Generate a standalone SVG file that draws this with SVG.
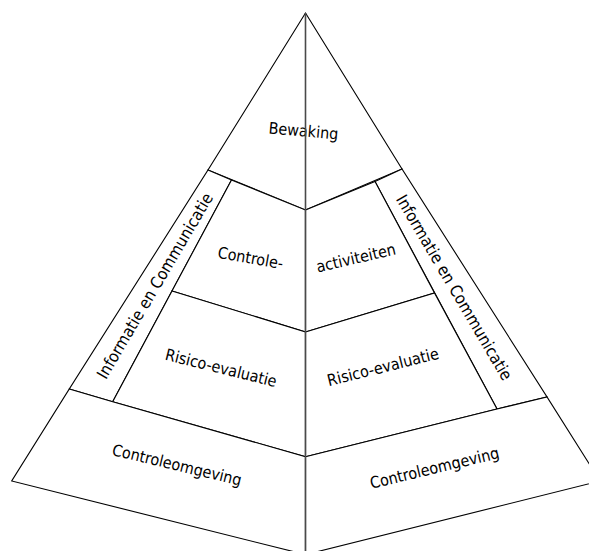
<svg xmlns="http://www.w3.org/2000/svg" width="589" height="551" viewBox="0 0 589 551">
  <style>
    .seg { fill: #ffffff; stroke: #000000; stroke-width: 1.1; stroke-linejoin: miter; }
    .axis { fill: none; stroke: #4a4a4a; stroke-width: 1.6; }
    .lbl { font-family: "DejaVu Sans Condensed", "DejaVu Sans", sans-serif; font-stretch: condensed; font-size: 16px; fill: #000000; text-anchor: middle; }
    .band { font-size: 16.5px; }
  </style>
  <rect width="589" height="551" fill="#ffffff"/>

  <!-- top of the pyramid -->
  <g id="bewaking">
    <polygon class="seg" points="305.5,13 402,169 305.5,210 208,170"/>
    <text class="lbl" transform="translate(303.5,131) rotate(5)" y="5.5">Bewaking</text>
  </g>

  <!-- side bands -->
  <g id="info-left">
    <polygon class="seg" points="208,170 231.5,180 112.7,401.7 69.3,389"/>
    <text class="lbl band" transform="translate(155,286) rotate(-59.5)" y="5.5">Informatie en Communicatie</text>
  </g>
  <g id="info-right">
    <polygon class="seg" points="402,169 375,181.5 497,409 547,397"/>
    <text class="lbl band" transform="translate(454,287.5) rotate(59.5)" y="5.5">Informatie en Communicatie</text>
  </g>

  <!-- control activities -->
  <g id="controle-left">
    <polygon class="seg" points="231.5,180 305.5,210 305.5,332 172,291"/>
    <text class="lbl" transform="translate(250.5,258) rotate(10)" y="5.5">Controle-</text>
  </g>
  <g id="controle-right">
    <polygon class="seg" points="305.5,210 375,181.5 434.5,293 305.5,332"/>
    <text class="lbl" transform="translate(356,258) rotate(-13)" y="5.5">activiteiten</text>
  </g>

  <!-- risk assessment -->
  <g id="risico-left">
    <polygon class="seg" points="172,291 305.5,332 305.5,456.7 112.7,401.7"/>
    <text class="lbl" transform="translate(221,368) rotate(14)" y="5.5">Risico-evaluatie</text>
  </g>
  <g id="risico-right">
    <polygon class="seg" points="305.5,332 434.5,293 497,409 305.5,456.7"/>
    <text class="lbl" transform="translate(383,367) rotate(-14)" y="5.5">Risico-evaluatie</text>
  </g>

  <!-- control environment (base) -->
  <g id="omgeving-left">
    <polygon class="seg" points="69.3,389 112.7,401.7 305.5,456.7 305.5,554.6 11.7,481"/>
    <text class="lbl" transform="translate(177,465) rotate(13.5)" y="5.5">Controleomgeving</text>
  </g>
  <g id="omgeving-right">
    <polygon class="seg" points="305.5,456.7 497,409 547,397 600,481 305.5,554.6"/>
    <text class="lbl" transform="translate(434.5,468) rotate(-13.5)" y="5.5">Controleomgeving</text>
  </g>

  <!-- central axis -->
  <g id="connectors">
    <line class="axis" x1="305.5" y1="13" x2="305.5" y2="551"/>
  </g>
</svg>
